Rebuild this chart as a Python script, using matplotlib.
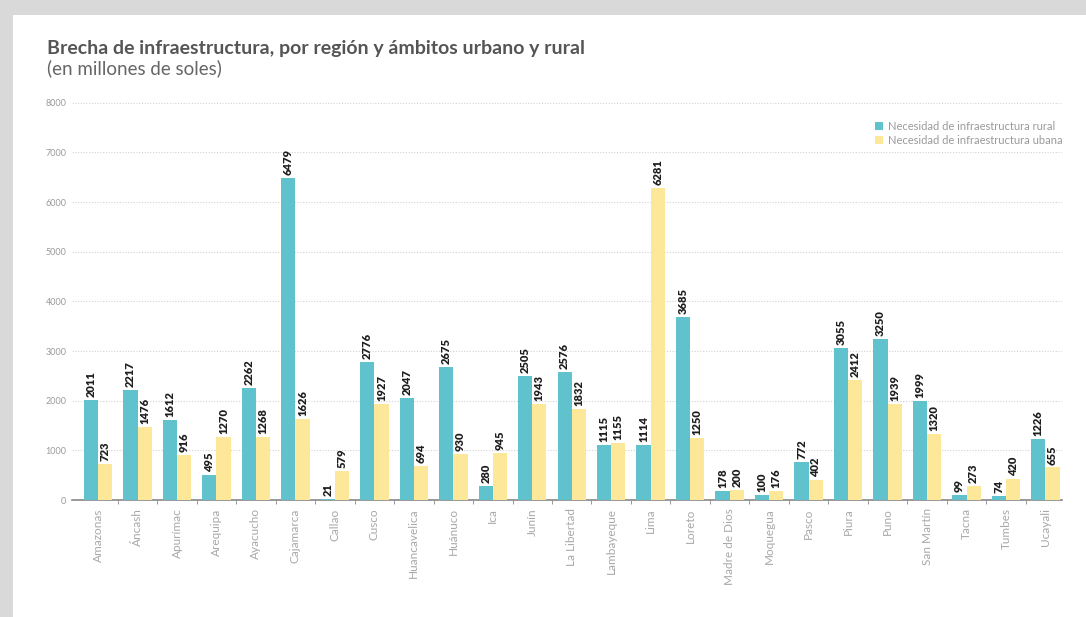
import matplotlib.pyplot as plt
import matplotlib.patches as mpatches
import numpy as np

regiones = ["Amazonas", "Áncash", "Apurímac", "Arequipa", "Ayacucho", "Cajamarca",
            "Callao", "Cusco", "Huancavelica", "Huánuco", "Ica", "Junín",
            "La Libertad", "Lambayeque", "Lima", "Loreto", "Madre de Dios",
            "Moquegua", "Pasco", "Piura", "Puno", "San Martín", "Tacna",
            "Tumbes", "Ucayali"]
rural = [2011, 2217, 1612, 495, 2262, 6479, 21, 2776, 2047, 2675, 280, 2505,
         2576, 1115, 1114, 3685, 178, 100, 772, 3055, 3250, 1999, 99, 74, 1226]
urbana = [723, 1476, 916, 1270, 1268, 1626, 579, 1927, 694, 930, 945, 1943,
          1832, 1155, 6281, 1250, 200, 176, 402, 2412, 1939, 1320, 273, 420, 655]
y_ticks = [0, 1000, 2000, 3000, 4000, 5000, 6000, 7000, 8000]

c_rural = "#5fc2cd"
c_urb = "#fde89a"
gris = "#9a9a9a"

plt.rcParams['font.family'] = ['Lato', 'DejaVu Sans']

fig = plt.figure(figsize=(10.86, 6.17), dpi=100)
fig.patch.set_facecolor("#d9d9d9")
# tarjeta blanca detrás del gráfico
fig.patches.append(mpatches.Rectangle((0.012, 0), 0.988, 0.975, transform=fig.transFigure,
                                      facecolor="white", edgecolor="none", zorder=0))

ax = fig.add_axes([0.0663, 0.1896, 0.912, 0.644])
ax.set_zorder(2)
ax.set_facecolor("none")

x = np.arange(len(regiones))
w = 0.36
b1 = ax.bar(x - w / 2, rural, w, color=c_rural, label="Necesidad de infraestructura rural", zorder=3)
b2 = ax.bar(x + w / 2, urbana, w, color=c_urb, label="Necesidad de infraestructura ubana", zorder=3)

for barras, vals in ((b1, rural), (b2, urbana)):
    for b, v in zip(barras, vals):
        ax.text(b.get_x() + b.get_width() / 2, v + 60, str(v), rotation=90,
                ha="center", va="bottom", fontsize=8, fontweight="heavy", color="#1e1e1e")

ax.set_xlim(-0.66, 24.43)
ax.set_ylim(0, 8000)
ax.set_yticks(y_ticks)
ax.set_yticklabels([str(t) for t in y_ticks], fontsize=6.5, color=gris)
ax.tick_params(axis="y", length=0, pad=4)

ax.set_xticks(x)
ax.set_xticklabels(regiones, rotation=90, fontsize=8.5, color="#a8a8a8")
ax.set_xticks(x[:-1] + 0.5, minor=True)
ax.tick_params(axis="x", which="major", length=0, pad=6)
ax.tick_params(axis="x", which="minor", length=3, color="#888888", direction="out")

ax.grid(axis="y", linestyle=(0, (1, 1.5)), color="#d2d2d2", linewidth=0.8, zorder=0)
for s in ("top", "right", "left"):
    ax.spines[s].set_visible(False)
ax.spines["bottom"].set_color("#888888")
ax.spines["bottom"].set_linewidth(1.2)

leg = ax.legend(loc="upper right", bbox_to_anchor=(1.01, 0.98), frameon=False, fontsize=8,
                handlelength=0.75, handleheight=0.75, handletextpad=0.4, labelspacing=0.3)
for t in leg.get_texts():
    t.set_color(gris)

fig.text(0.043, 0.912, "Brecha de infraestructura, por región y ámbitos urbano y rural",
         fontsize=14, fontweight="bold", color="#555555")
fig.text(0.043, 0.88, "(en millones de soles)", fontsize=13.5, color="#666666")

fig.savefig("out.png", dpi=100)
